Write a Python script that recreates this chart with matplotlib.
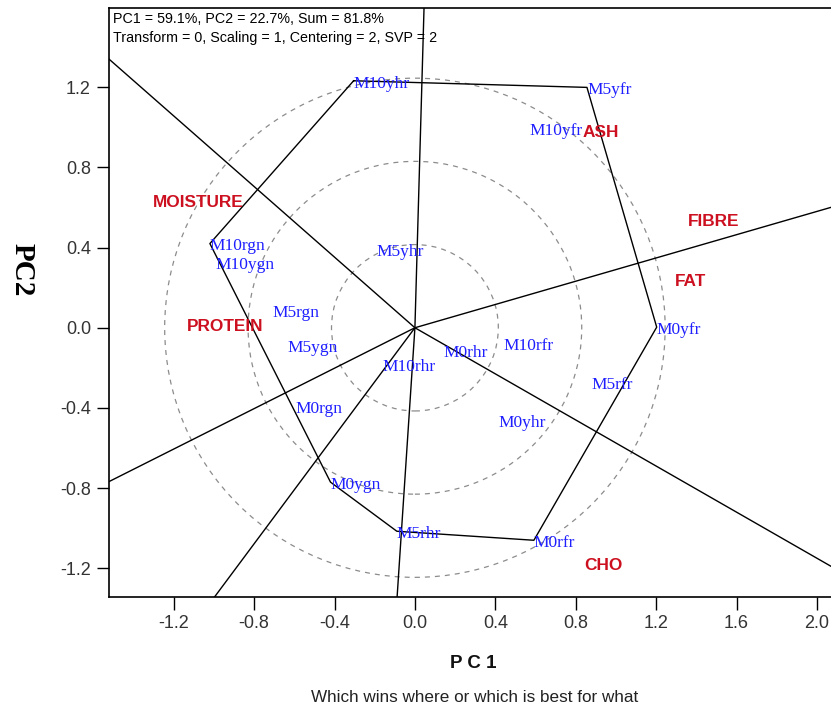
import matplotlib
matplotlib.use("Agg")
import matplotlib.pyplot as plt
from matplotlib.patches import Circle
import numpy as np

plt.rcParams["axes.unicode_minus"] = False

# Genotype scores on the first two principal components
genotypes = ["M10yhr", "M5yfr", "M10yfr", "M0yfr", "M5rfr", "M0rfr", "M5rhr",
             "M0ygn", "M0rgn", "M10rgn", "M10ygn", "M5rgn", "M5ygn", "M5yhr",
             "M10rhr", "M0rhr", "M10rfr", "M0yhr"]
gen_pc1 = [-0.305, 0.856, 0.571, 1.203, 0.879, 0.592, -0.090,
           -0.420, -0.594, -1.020, -0.992, -0.710, -0.632, -0.191,
           -0.163, 0.144, 0.439, 0.418]
gen_pc2 = [1.232, 1.199, 0.994, 0.003, -0.274, -1.060, -1.015,
           -0.770, -0.391, 0.420, 0.329, 0.088, -0.086, 0.393,
           -0.183, -0.114, -0.078, -0.460]

# Environment (trait) scores
traits = ["MOISTURE", "PROTEIN", "ASH", "FIBRE", "FAT", "CHO"]
trait_pc1 = [-1.303, -1.133, 0.832, 1.360, 1.294, 0.844]
trait_pc2 = [0.623, 0.008, 0.975, 0.532, 0.229, -1.187]

# Vertex genotypes of the which-won-where polygon, in order around the hull
hull_order = ["M10yhr", "M5yfr", "M0yfr", "M0rfr", "M5rhr", "M0ygn", "M10rgn"]

circle_radii = [0.415, 0.83, 1.245]

xticks = [-1.2, -0.8, -0.4, 0.0, 0.4, 0.8, 1.2, 1.6, 2.0]
xtick_labels = ["-1.2", "-0.8", "-0.4", "0.0", "0.4", "0.8", "1.2", "1.6", "2.0"]
yticks = [-1.2, -0.8, -0.4, 0.0, 0.4, 0.8, 1.2]
ytick_labels = ["-1.2", "-0.8", "-0.4", "0.0", "0.4", "0.8", "1.2"]

info_lines = ["PC1 = 59.1%, PC2 = 22.7%, Sum = 81.8%",
              "Transform = 0, Scaling = 1, Centering = 2, SVP = 2"]

W, H = 831, 709
fig = plt.figure(figsize=(W / 100, H / 100), dpi=100)
ax_left, ax_right, ax_top, ax_bottom = 109, 837, 8, 597
ax = fig.add_axes([ax_left / W, (H - ax_bottom) / H,
                   (ax_right - ax_left) / W, (ax_bottom - ax_top) / H])
ax.set_xlim(-1.522, 2.100)
ax.set_ylim(-1.343, 1.595)

pos = {g: np.array([x, y]) for g, x, y in zip(genotypes, gen_pc1, gen_pc2)}

# Concentric reference circles
for r in circle_radii:
    ax.add_patch(Circle((0, 0), r, fill=False, edgecolor="#8c8c8c",
                        linestyle=(0, (4, 4)), linewidth=0.9, zorder=1))

# Polygon through the vertex genotypes
hull = [pos[g] for g in hull_order] + [pos[hull_order[0]]]
ax.plot([p[0] for p in hull], [p[1] for p in hull], color="black",
        linewidth=1.0, zorder=2)

# Rays from the origin perpendicular to each polygon side
for a, b in zip(hull[:-1], hull[1:]):
    d = b - a
    n = np.array([d[1], -d[0]])
    if np.dot(n, a) < 0:
        n = -n
    n = n / np.linalg.norm(n)
    ax.plot([0, n[0] * 6], [0, n[1] * 6], color="black", linewidth=1.0,
            zorder=2)

for g, x, y in zip(genotypes, gen_pc1, gen_pc2):
    ax.annotate(g, (x, y), xytext=(0, -2), textcoords="offset points",
                ha="left", va="center", color="#1f1fff",
                family="Liberation Serif", fontsize=12.5, zorder=3)

for t, x, y in zip(traits, trait_pc1, trait_pc2):
    ax.text(x, y, t, ha="left", va="center", color="#cc1020",
            family="Liberation Sans", fontweight="bold", fontsize=12.4,
            zorder=3)

# Summary text in the upper-left corner
for i, line in enumerate(info_lines):
    ax.text(4 / 728, 1 - (11 + 19 * i) / 589, line, transform=ax.transAxes,
            ha="left", va="center", fontsize=10.3, family="Liberation Sans",
            color="black", zorder=5)

ax.set_xticks(xticks)
ax.set_xticklabels(xtick_labels)
ax.set_yticks(yticks)
ax.set_yticklabels(ytick_labels)
ax.tick_params(direction="out", length=9, width=1.0, pad=4,
               labelsize=13, labelcolor="#333333", color="black")
for lab in ax.get_xticklabels() + ax.get_yticklabels():
    lab.set_family("Liberation Sans")
for s in ax.spines.values():
    s.set_linewidth(1.2)
    s.set_color("black")

fig.text(473 / W, 1 - 663 / H, "P C 1", ha="center", va="center",
         fontsize=13.5, fontweight="bold", family="Liberation Sans",
         color="#111111")
fig.text(22 / W, 1 - 270 / H, "PC2", ha="center", va="center", rotation=270,
         fontsize=21, fontweight="bold", family="Liberation Serif",
         color="black")
fig.text(475 / W, 1 - 698 / H, "Which wins where or which is best for what",
         ha="center", va="center", fontsize=12.3, family="Liberation Sans",
         color="#222222")

fig.savefig("out.png", dpi=100)
